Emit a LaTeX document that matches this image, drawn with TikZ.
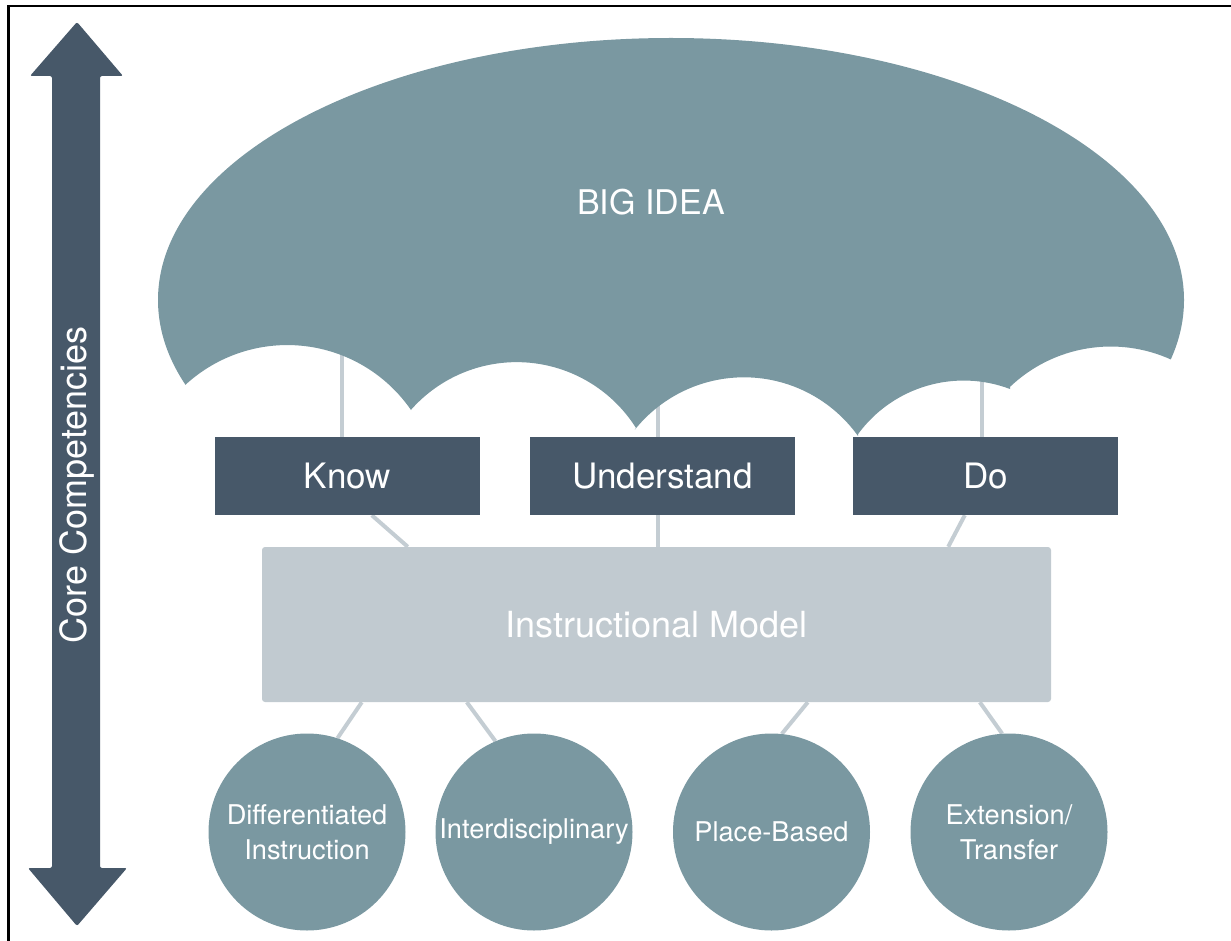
\documentclass[tikz,border=0pt]{standalone}
\usepackage{fontspec}
\setmainfont{TeX Gyre Heros}
\usetikzlibrary{calc}
\definecolor{slate}{RGB}{71,88,105}
\definecolor{umbc}{RGB}{122,152,161}
\definecolor{mist}{RGB}{193,202,208}
\definecolor{linkc}{RGB}{196,205,211}
\pgfdeclarelayer{bg}
\pgfsetlayers{bg,main}
\begin{document}
\begin{tikzpicture}[x=1pt,y=-1pt,
  box/.style={fill=slate, text=white, minimum width=265pt, minimum height=78pt,
    inner sep=0pt, font=\fontsize{35}{40}\selectfont},
  model/.style={fill=mist, rounded corners=3pt, text=white, minimum width=789pt,
    minimum height=155pt, inner sep=0pt, font=\fontsize{36}{40}\selectfont},
  topic/.style={circle, fill=umbc, text=white, minimum size=197pt, inner sep=0pt,
    align=center, font=\fontsize{27.2}{35}\selectfont},
  link/.style={draw=linkc, line width=4pt}]
\useasboundingbox (0,0) rectangle (1231,941);

% frame (top and left edges)
\draw[line width=2.5pt] (8.5,941) -- (8.5,6) -- (1231,6);

% double-headed vertical arrow
\fill[slate, rounded corners=2pt] (77,22) -- (123,76) -- (100,76) -- (100,868)
  -- (127,868) -- (77,926) -- (28,868) -- (52,868) -- (52,76) -- (30,76) -- cycle;
\node[rotate=90, text=white, inner sep=0pt, font=\fontsize{36}{40}\selectfont]
  (cc) at (77,485) {Core Competencies};

% three outcome boxes
\node[box] (know) at (347.5,476) {Know};
\node[box] (understand) at (662.5,476) {Understand};
\node[box] (do) at (985.5,476) {Do};

% instructional model
\node[model] (model) at (656.5,624.5) {Instructional Model};

% approaches
\node[topic] (c1) at (307,832) {Differentiated\\Instruction};
\node[topic] (c2) at (534,832) {Interdisciplinary};
\node[topic] (c3) at (771.5,832) {Place-Based};
\node[topic] (c4) at (1009,832) {Extension/\\Transfer};

% umbrella poles and connectors
\coordinate (p1) at (342,340);
\coordinate (p2) at (658,380);
\coordinate (p3) at (982,370);
\coordinate (u1) at ($(understand.south)+(-4.5,0)$);
\begin{pgfonlayer}{bg}
  \draw[link] (p1) -- (p1 |- know.north);
  \draw[link] (p2) -- (p2 |- understand.north);
  \draw[link] (p3) -- (p3 |- do.north);
  \draw[link] ($(know.south west)+(157,0)$) -- ($(model.north west)+(146,0)$);
  \draw[link] (u1) -- (u1 |- model.north);
  \draw[link] ($(do.south west)+(112,0)$) -- ($(model.north east)+(-103,0)$);
  \draw[link] ($(model.south west)+(100,0)$) -- (c1.72);
  \draw[link] ($(model.south west)+(205,0)$) -- (c2.113);
  \draw[link] ($(model.south west)+(546,0)$) -- (c3.84);
  \draw[link] ($(model.south west)+(718,0)$) -- (c4.94);
\end{pgfonlayer}

% umbrella canopy: an ellipse cut by five circular scallops
\begin{scope}
  \clip (671,300) ellipse [x radius=513, y radius=262];
  \fill[umbc] (100,0) -- (1260,0) -- (1260,360) -- (1172,360)
    arc[start angle=65.2, end angle=133.6, radius=146pt] -- (1010,389)
    arc[start angle=69.3, end angle=143.6, radius=131pt] -- (858,436)
    arc[start angle=35.5, end angle=141.3, radius=140pt] -- (636,428)
    arc[start angle=32.2, end angle=138.7, radius=141pt] -- (411,410)
    arc[start angle=34.6, end angle=132.8, radius=150.3pt] -- (185,385)
    -- (100,385) -- cycle;
\end{scope}
\node[text=white, font=\fontsize{34}{40}\selectfont] (big) at (651,202) {BIG IDEA};
\end{tikzpicture}
\end{document}
